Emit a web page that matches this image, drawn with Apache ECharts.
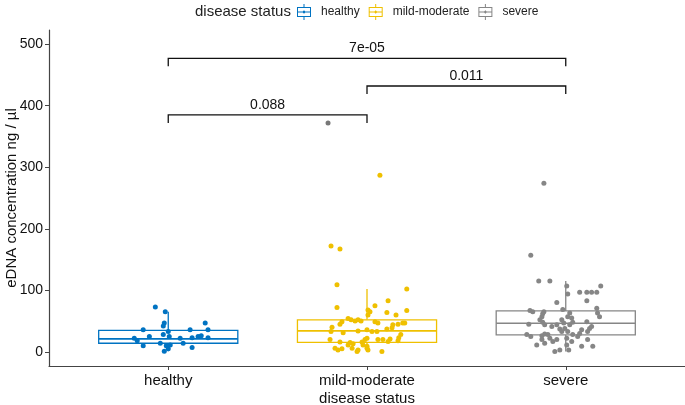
<!DOCTYPE html>
<html>
<head>
<meta charset="utf-8">
<script src="https://cdn.jsdelivr.net/npm/echarts@6/dist/echarts.min.js"></script>
<style>
html,body{margin:0;padding:0;background:#fff;}
#chart{width:685px;height:405px;}
</style>
</head>
<body>
<div id="chart"></div>
<script>
// ---- data ----
var categories = ['healthy', 'mild-moderate', 'severe'];
var colors = ['#0073C2', '#EFC000', '#868686'];
var yTicks = [0, 100, 200, 300, 400, 500];

// box stats: [min, Q1, median, Q3, upper whisker]
var healthyBox = [1, 14, 21, 35, 65];
var mildBox = [0.5, 15.5, 34, 52, 102];
var severeBox = [0.5, 27.5, 46.5, 66.5, 115];

// jittered points: horizontal jitter (category units) and value
var healthyJitter = [-0.065,-0.015,-0.02,-0.025,-0.126,-0.171,-0.156,-0.095,-0.025,-0.126,-0.04,-0.01,-0.02,0.005,0,0.01,0,0.06,0.075,0.11,0.12,0.12,0.15,0.166,0.186,0.2,0.2];
var healthyValues = [73,65,47,42,36,22,18,25,28,10,14,10,1,25,33,11,5,22,14,36,23,7,25,26,47,36,23];

var mildJitter = [-0.151,-0.151,-0.126,-0.136,-0.095,-0.08,-0.06,-0.045,-0.03,-0.176,-0.181,-0.12,-0.045,-0.186,-0.136,-0.085,-0.07,-0.025,-0.01,-0.02,-0.161,-0.146,-0.126,-0.075,-0.05,-0.045,0,-0.095,0.2,0.106,0.04,0.005,0.015,0.005,0.1,0.146,0.2,0.04,0.055,0.13,0.156,0.18,0.19,0.1,0.126,0,0.025,0.05,0.17,0.16,0,0.055,0.08,0.106,0.116,0.156,0,0.005,0.075,-0.181,-0.136,0.065];
var mildValues = [109,72,49,45,54,52,50,52,50,40,33,31,34,20,16,15,13,16,20,11,6,3,5,6,0.5,3,6,11,102,83,75,68,65,60,64,60,67,49,47,44,45,47,47,37,39,36,33,33,28,23,22,20,20,17,21,18,9,3,0.5,172,167,287];

var severeJitter = [-0.11,-0.176,-0.136,-0.08,0.176,0.005,0.07,0.106,0.13,0.156,0.01,-0.045,0.106,0.156,0.16,0.17,-0.18,-0.166,-0.11,-0.116,-0.12,-0.13,-0.015,0.02,0.01,0.03,-0.186,-0.116,-0.106,-0.07,-0.045,-0.02,-0.01,0.106,0.02,0.035,-0.03,-0.02,-0.005,0.01,0.035,0.08,0.07,0.12,0.13,0.11,-0.196,-0.176,-0.12,-0.106,-0.09,-0.08,-0.045,-0.065,-0.12,-0.146,-0.106,-0.055,-0.03,0.005,0.06,0.005,0.11,0.03,0.08,0.136,0.015];
var severeValues = [274,157,115,115,107,107,97,97,97,97,94,80,83,71,63,57,67,65,65,62,57,52,69,63,57,55,45,48,44,41,44,52,47,49,44,48,37,33,38,33,28,36,30,38,41,33,28,25,26,29,28,22,20,17,20,11,14,0.5,3,11,25,22,20,17,9,9,3];

// boxplot outlier drawn in dark grey at mild-moderate
var outlierJitter = [-0.196];
var outlierValues = [372];

// pairwise comparisons: [group from, group to, bracket height, p label]
var compFrom = [1, 2, 1];
var compTo = [2, 3, 3];
var compY = [385, 432, 477];
var compLabel = ['0.088', '0.011', '7e-05'];

// ---- build ----
var boxes = [healthyBox, mildBox, severeBox];
var jitters = [healthyJitter, mildJitter, severeJitter];
var values = [healthyValues, mildValues, severeValues];
var FONT = '"Liberation Sans", Arial, Helvetica, sans-serif';
var legendIcon = 'path://M7.5,0H8.5V3H7.5Z M1,3H15V13H1Z M2,4V12H14V4Z M2,7.5H14V8.5H2Z M8,6.3L9.7,8L8,9.7L6.3,8Z M7.5,13H8.5V16H7.5Z';

function boxRender(params, api) {
  var x = api.value(0);
  var c = api.coord;
  var half = api.size([0.7, 0])[0] / 2;
  var pMin = c([x, api.value(1)]), pQ1 = c([x, api.value(2)]), pMed = c([x, api.value(3)]),
      pQ3 = c([x, api.value(4)]), pMax = c([x, api.value(5)]);
  var col = api.visual('color');
  var st = {stroke: col, lineWidth: 1.3, fill: null};
  return {
    type: 'group',
    children: [
      {type: 'line', shape: {x1: pQ3[0], y1: pQ3[1], x2: pMax[0], y2: pMax[1]}, style: st},
      {type: 'line', shape: {x1: pQ1[0], y1: pQ1[1], x2: pMin[0], y2: pMin[1]}, style: st},
      {type: 'rect', shape: {x: pQ3[0] - half, y: pQ3[1], width: half * 2, height: pQ1[1] - pQ3[1]}, style: {stroke: col, lineWidth: 1.3, fill: '#fff'}},
      {type: 'line', shape: {x1: pMed[0] - half, y1: pMed[1], x2: pMed[0] + half, y2: pMed[1]}, style: {stroke: col, lineWidth: 1.6}}
    ]
  };
}

function bracketRender(params, api) {
  var a = api.value(0), b = api.value(1), y = api.value(2);
  var tip = 13;
  var p1 = api.coord([a, y - tip]), p2 = api.coord([a, y]), p3 = api.coord([b, y]), p4 = api.coord([b, y - tip]);
  return {
    type: 'group',
    children: [
      {type: 'polyline', shape: {points: [p1, p2, p3, p4]}, style: {stroke: '#111', lineWidth: 1.3, fill: null}},
      {type: 'text', style: {text: compLabel[params.dataIndex], x: (p2[0] + p3[0]) / 2, y: p2[1] - 3,
        textAlign: 'center', textVerticalAlign: 'bottom', fill: '#111', font: '14px ' + FONT}}
    ]
  };
}

var series = [];
categories.forEach(function (name, i) {
  var b = boxes[i];
  series.push({
    name: name, type: 'custom', renderItem: boxRender,
    itemStyle: {color: colors[i]},
    encode: {x: 0, y: [1, 2, 3, 4, 5]},
    data: [[i + 1, b[0], b[1], b[2], b[3], b[4]]],
    z: 2
  });
});
categories.forEach(function (name, i) {
  var pts = values[i].map(function (v, k) { return [i + 1 + jitters[i][k], v]; });
  series.push({
    name: name, type: 'scatter', symbolSize: 5,
    itemStyle: {color: colors[i], opacity: 1},
    data: pts, z: 3, silent: true
  });
});
series.push({
  type: 'scatter', symbolSize: 5, itemStyle: {color: '#555'},
  data: outlierValues.map(function (v, k) { return [2 + outlierJitter[k], v]; }), z: 3
});
series.push({
  type: 'custom', renderItem: bracketRender,
  encode: {x: [0, 1], y: 2},
  data: compY.map(function (y, k) { return [compFrom[k], compTo[k], y]; }),
  z: 4
});

var axisColor = '#444';
var option = {
  animation: false,
  backgroundColor: '#fff',
  textStyle: {fontFamily: FONT},
  title: {
    text: 'disease status', left: 195, top: 4, padding: 0,
    textStyle: {fontSize: 15, fontWeight: 'normal', color: '#222', fontFamily: FONT}
  },
  legend: {
    left: 297, top: 4, padding: 0, itemWidth: 16, itemHeight: 16, itemGap: 9,
    textStyle: {fontSize: 12, color: '#222', fontFamily: FONT, padding: [0, 0, 0, 4]},
    data: categories.map(function (c) { return {name: c, icon: legendIcon}; })
  },
  grid: {left: 49, right: 0, top: 30, bottom: 39, containLabel: false, outerBoundsMode: 'none'},
  xAxis: {
    type: 'value', min: 0.4, max: 3.6,
    name: 'disease status', nameLocation: 'middle', nameGap: 25, nameMoveOverlap: false,
    nameTextStyle: {fontSize: 15, color: '#111', fontFamily: FONT},
    axisLine: {show: true, lineStyle: {color: axisColor, width: 1.2}, onZero: false},
    axisTick: {show: true, length: 4, lineStyle: {color: axisColor}, customValues: [1, 2, 3]},
    axisLabel: {customValues: [1, 2, 3], fontSize: 15, color: '#111', margin: 7,
      formatter: function (v) { return categories[Math.round(v) - 1] || ''; }},
    splitLine: {show: false}
  },
  yAxis: {
    type: 'value', min: -23, max: 523,
    name: 'eDNA concentration ng / µl', nameLocation: 'middle', nameGap: 30, nameMoveOverlap: false,
    nameTextStyle: {fontSize: 15, color: '#111', fontFamily: FONT},
    axisLine: {show: true, lineStyle: {color: axisColor, width: 1.2}, onZero: false},
    axisTick: {show: true, length: 4, lineStyle: {color: axisColor}, customValues: yTicks},
    axisLabel: {customValues: yTicks, fontSize: 14, color: '#111', margin: 6},
    splitLine: {show: false}
  },
  series: series
};
var chart = echarts.init(document.getElementById('chart'), null, {renderer: 'canvas'});
chart.setOption(option);
</script>
</body>
</html>
